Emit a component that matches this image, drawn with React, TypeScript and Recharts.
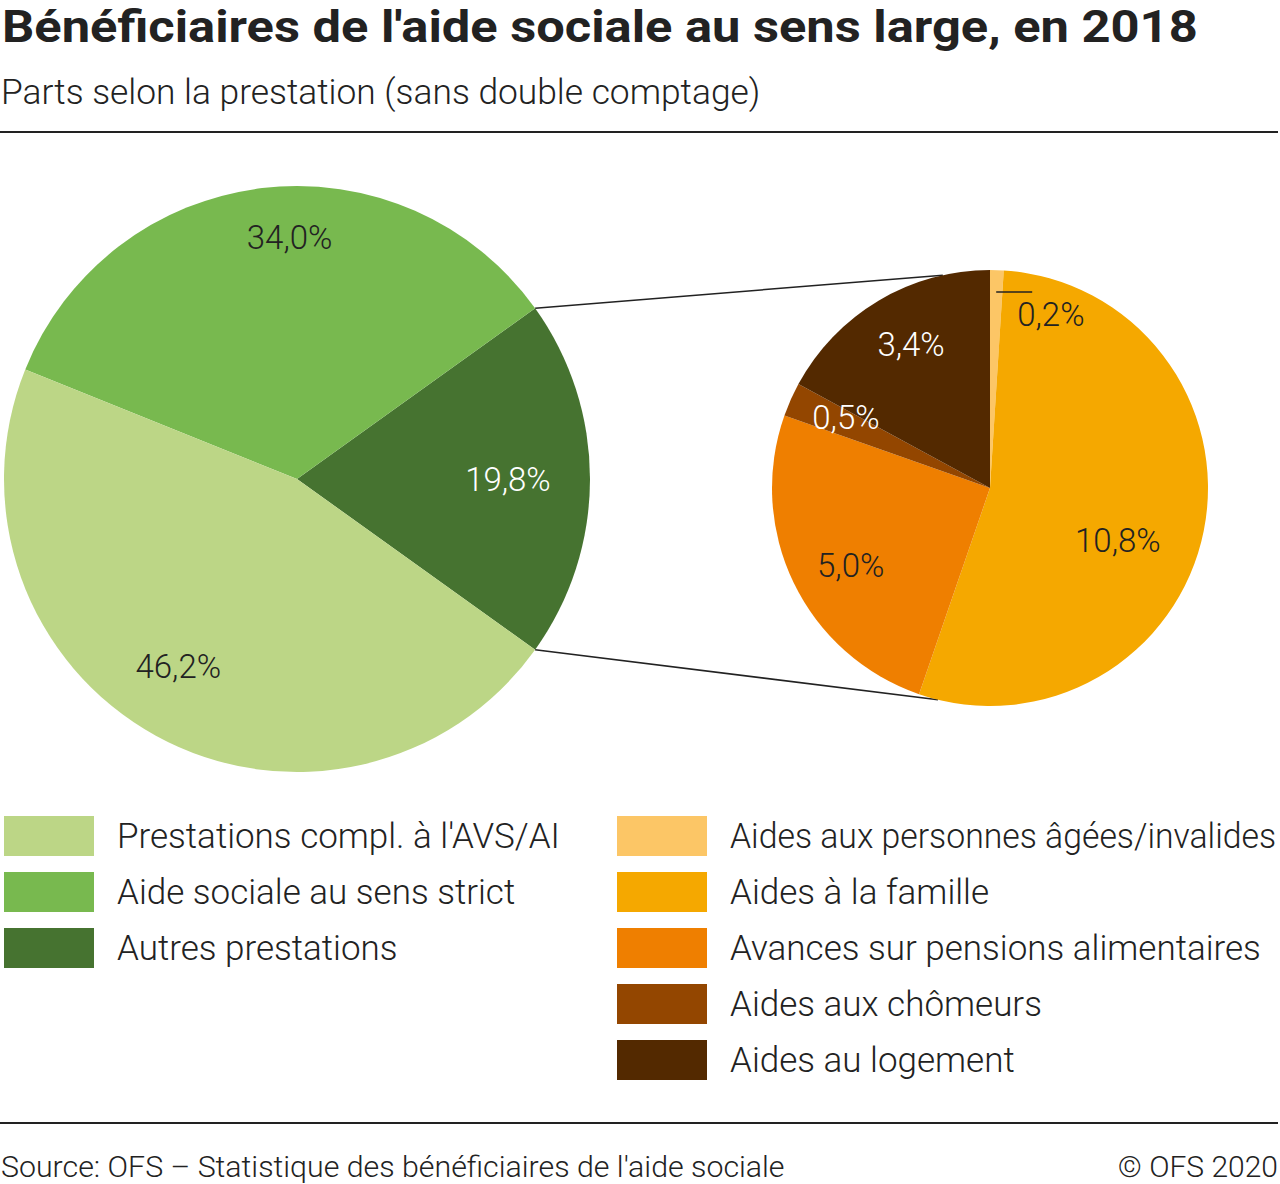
import React, { useLayoutEffect, useRef, useState } from 'react';
import { PieChart, Pie, Cell, Customized } from 'recharts';

const mainCategories = ["Prestations compl. à l'AVS/AI", 'Aide sociale au sens strict', 'Autres prestations'];
const mainValues = [46.2, 34.0, 19.8];
const mainColors = ['#bcd686', '#78b94f', '#467330'];
const mainLabelColors = ['#222222', '#222222', '#ffffff'];

const detailCategories = [
  'Aides aux personnes âgées/invalides',
  'Aides à la famille',
  'Avances sur pensions alimentaires',
  'Aides aux chômeurs',
  'Aides au logement',
];
const detailValues = [0.2, 10.8, 5.0, 0.5, 3.4];
const detailColors = ['#fcc666', '#f5a800', '#ef7f00', '#934600', '#532900'];
const detailLabelColors = ['#222222', '#222222', '#222222', '#ffffff', '#ffffff'];

const titleText = "Bénéficiaires de l'aide sociale au sens large, en 2018";
const subtitleText = 'Parts selon la prestation (sans double comptage)';
const sourceText = "Source: OFS – Statistique des bénéficiaires de l'aide sociale";
const copyrightText = '© OFS 2020';

// layout / style constants
const BIG = { cx: 297, cy: 479, r: 293 };
const SMALL = { cx: 990, cy: 488, r: 218 };
const bigLabelRatio = [0.758, 0.826, 0.72]; // by category index
const bigLabelShift = [-3.5, -5.1, 0];
const smallLabelRatio = [0.9, 0.635, 0.731, 0.736, 0.75];
const smallLabelShift = [0, -11.2, 3.3, -2.2, -1.9];
const connectorSmallAngles = [102.5, -103.8];
const FONT = 'Roboto, "Noto Sans", sans-serif';
const RAD = Math.PI / 180;
const LABEL_SIZE = 33;

const fmt = (v: number) => v.toFixed(1).replace('.', ',') + '%';

// big pie drawn starting with "Autres" centered on 0°
const bigOrder = [2, 1, 0];
const bigData = bigOrder.map((i) => ({ name: mainCategories[i], value: mainValues[i], idx: i }));
const mainSum = mainValues.reduce((a, b) => a + b, 0);
const half = (mainValues[2] / mainSum) * 180;

const smallData = detailCategories.map((c, i) => ({ name: c, value: detailValues[i], idx: i }));

const renderBigLabel = (props: any) => {
  const { cx, cy, midAngle, outerRadius, index } = props;
  const idx = bigOrder[index];
  const rr = outerRadius * bigLabelRatio[idx];
  const a = midAngle + bigLabelShift[idx];
  const x = cx + rr * Math.cos(-a * RAD);
  const y = cy + rr * Math.sin(-a * RAD);
  return (
    <text x={x} y={y} fill={mainLabelColors[idx]} textAnchor="middle" dominantBaseline="central"
      fontFamily={FONT} fontWeight={300} fontSize={LABEL_SIZE}>
      {fmt(mainValues[idx])}
    </text>
  );
};

const renderSmallLabel = (props: any) => {
  const { cx, cy, midAngle, outerRadius, index } = props;
  const rr = outerRadius * smallLabelRatio[index];
  const a = midAngle + smallLabelShift[index];
  const x = cx + rr * Math.cos(-a * RAD);
  const y = cy + rr * Math.sin(-a * RAD);
  if (index === 0) {
    return (
      <g>
        <line x1={x} y1={y} x2={x + 36} y2={y} stroke="#222" strokeWidth={1.5} />
        <text x={x + 21} y={y + 23} fill={detailLabelColors[index]} textAnchor="start" dominantBaseline="central"
          fontFamily={FONT} fontWeight={300} fontSize={LABEL_SIZE}>
          {fmt(detailValues[index])}
        </text>
      </g>
    );
  }
  return (
    <text x={x} y={y} fill={detailLabelColors[index]} textAnchor="middle" dominantBaseline="central"
      fontFamily={FONT} fontWeight={300} fontSize={LABEL_SIZE}>
      {fmt(detailValues[index])}
    </text>
  );
};

const Connectors = () => {
  const pt = (c: { cx: number; cy: number; r: number }, ang: number) => ({
    x: c.cx + c.r * Math.cos(ang * RAD),
    y: c.cy - c.r * Math.sin(ang * RAD),
  });
  const p1 = pt(BIG, half);
  const p2 = pt(BIG, -half);
  const q1 = pt(SMALL, connectorSmallAngles[0]);
  const q2 = pt(SMALL, connectorSmallAngles[1]);
  return (
    <g>
      <line x1={p1.x} y1={p1.y} x2={q1.x} y2={q1.y} stroke="#222" strokeWidth={1.5} />
      <line x1={p2.x} y1={p2.y} x2={q2.x} y2={q2.y} stroke="#222" strokeWidth={1.5} />
    </g>
  );
};

// Text scaled horizontally to a given width (exact=true) or only shrunk if wider (exact=false)
const FitText = ({ text, width, exact, style }: { text: string; width: number; exact?: boolean; style: React.CSSProperties }) => {
  const ref = useRef<HTMLSpanElement>(null);
  const [scale, setScale] = useState(1);
  useLayoutEffect(() => {
    if (ref.current) {
      const w = ref.current.offsetWidth;
      if (w > 0 && (exact || w > width)) setScale(width / w);
    }
  }, [text, width, exact]);
  return (
    <span
      ref={ref}
      style={{ ...style, display: 'inline-block', whiteSpace: 'nowrap', transformOrigin: 'left center', transform: scale !== 1 ? `scaleX(${scale})` : undefined }}
    >
      {text}
    </span>
  );
};

const LegendItem = ({ color, label, left, top, maxWidth }: { color: string; label: string; left: number; top: number; maxWidth: number }) => (
  <div style={{ position: 'absolute', left, top, height: 40, display: 'flex', alignItems: 'center' }}>
    <div style={{ width: 90, height: 40, background: color, flex: 'none' }} />
    <div style={{ marginLeft: 23 }}>
      <FitText text={label} width={maxWidth} style={{ fontSize: 35, fontWeight: 300, lineHeight: '35px', color: '#222' }} />
    </div>
  </div>
);

export default function App() {
  return (
    <div style={{ position: 'absolute', left: 0, top: 0, width: 1280, height: 1184, background: '#fff', fontFamily: FONT, overflow: 'hidden' }}>
      <div style={{ position: 'absolute', left: 2, top: 4 }}>
        <FitText text={titleText} width={1196} exact style={{ fontSize: 45, lineHeight: '45px', fontWeight: 700, color: '#222' }} />
      </div>
      <div style={{ position: 'absolute', left: 1, top: 75 }}>
        <FitText text={subtitleText} width={759} exact style={{ fontSize: 35, lineHeight: '35px', fontWeight: 300, color: '#222' }} />
      </div>
      <div style={{ position: 'absolute', left: 0, top: 131, width: 1278, height: 2, background: '#222' }} />

      <div style={{ position: 'absolute', left: 0, top: 0 }}>
        <PieChart width={1280} height={800} margin={{ top: 0, right: 0, bottom: 0, left: 0 }}>
          <Pie
            data={bigData}
            dataKey="value"
            cx={BIG.cx}
            cy={BIG.cy}
            outerRadius={BIG.r}
            startAngle={-half}
            endAngle={360 - half}
            stroke="none"
            label={renderBigLabel}
            labelLine={false}
            isAnimationActive={false}
          >
            {bigData.map((d) => (
              <Cell key={d.name} fill={mainColors[d.idx]} />
            ))}
          </Pie>
          <Pie
            data={smallData}
            dataKey="value"
            cx={SMALL.cx}
            cy={SMALL.cy}
            outerRadius={SMALL.r}
            startAngle={90}
            endAngle={-270}
            stroke="none"
            label={renderSmallLabel}
            labelLine={false}
            isAnimationActive={false}
          >
            {smallData.map((d) => (
              <Cell key={d.name} fill={detailColors[d.idx]} />
            ))}
          </Pie>
          <Customized component={Connectors} />
        </PieChart>
      </div>

      {mainCategories.map((c, i) => (
        <LegendItem key={c} color={mainColors[i]} label={c} left={4} top={816 + i * 56} maxWidth={480} />
      ))}
      {detailCategories.map((c, i) => (
        <LegendItem key={c} color={detailColors[i]} label={c} left={617} top={816 + i * 56} maxWidth={546} />
      ))}

      <div style={{ position: 'absolute', left: 0, top: 1122, width: 1278, height: 2, background: '#222' }} />
      <div style={{ position: 'absolute', left: 1, top: 1152 }}>
        <FitText text={sourceText} width={784} exact style={{ fontSize: 30, lineHeight: '30px', fontWeight: 300, color: '#222' }} />
      </div>
      <div style={{ position: 'absolute', right: 2, top: 1152, fontSize: 30, lineHeight: '30px', fontWeight: 300, color: '#222', whiteSpace: 'nowrap' }}>
        {copyrightText}
      </div>
    </div>
  );
}
